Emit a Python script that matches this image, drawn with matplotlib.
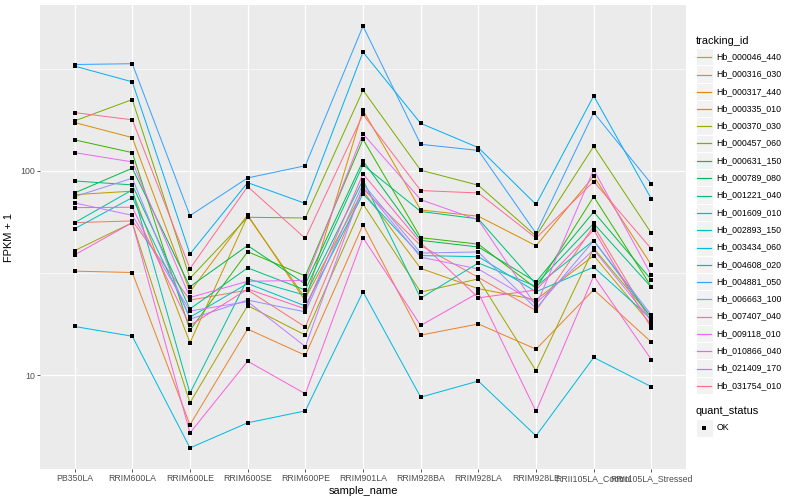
import numpy as np
import matplotlib
matplotlib.use("Agg")
import matplotlib.pyplot as plt
from matplotlib.patches import Rectangle
from matplotlib.lines import Line2D
from matplotlib.ticker import FixedLocator, NullFormatter

plt.rcParams["font.family"] = ["Liberation Sans", "DejaVu Sans"]

samples = ["PB350LA", "RRIM600LA", "RRIM600LE", "RRIM600SE", "RRIM600PE", "RRIM901LA",
           "RRIM928BA", "RRIM928LA", "RRIM928LE", "RRII105LA_Control", "RRII105LA_Stressed"]

tracking_ids = ["Hb_000046_440", "Hb_000316_030", "Hb_000317_440", "Hb_000335_010",
                "Hb_000370_030", "Hb_000457_060", "Hb_000631_150", "Hb_000789_080",
                "Hb_001221_040", "Hb_001609_010", "Hb_002893_150", "Hb_003434_060",
                "Hb_004608_020", "Hb_004881_050", "Hb_006663_100", "Hb_007407_040",
                "Hb_009118_010", "Hb_010866_040", "Hb_021409_170", "Hb_031754_010"]

# ggplot hue palette, 20 levels
colors = ["#F8766D", "#EA8331", "#D89000", "#C09B00", "#A3A500", "#7CAE00", "#39B600",
          "#00BB4E", "#00BF7D", "#00C1A3", "#00BFC4", "#00BAE0", "#00B0F6", "#35A2FF",
          "#9590FF", "#C77CFF", "#E76BF3", "#FA62DB", "#FF62BC", "#FF6C91"]

# FPKM + 1, one value per sample
hb_000046_440 = [55.8, 56.9, 23.3, 26.1, 17.2, 81.6, 43.1, 30.1, 20.7, 53.7, 18.2]
hb_000316_030 = [32.3, 31.8, 5.71, 16.8, 12.5, 54.5, 15.7, 17.8, 13.4, 26.2, 14.5]
hb_000317_440 = [172.5, 145.6, 25.6, 60.9, 23.1, 198, 64.4, 60.0, 43.0, 94.2, 34.6]
hb_000335_010 = [76.5, 79.6, 14.4, 60.2, 23.8, 79.8, 33.3, 26.5, 23.4, 38.5, 17.6]
hb_000370_030 = [40.7, 55.8, 7.32, 21.9, 15.7, 68.9, 25.5, 29.6, 10.5, 41.8, 19.2]
hb_000457_060 = [175.8, 223.6, 29.8, 59.3, 58.8, 248.6, 100.8, 85.1, 48.0, 132, 49.5]
hb_000631_150 = [141.9, 122.9, 16.6, 40.2, 30.6, 143, 47.1, 43.8, 26.6, 74.8, 27.1]
hb_000789_080 = [78.0, 103.1, 27.1, 43.1, 27.9, 111.9, 45.7, 42.4, 28.6, 63.0, 29.3]
hb_001221_040 = [89.3, 85.4, 21.1, 33.5, 26.1, 107.0, 63.3, 58.2, 27.9, 55.3, 26.9]
hb_001609_010 = [55.8, 80.7, 8.16, 29.6, 24.6, 90.3, 23.8, 35.4, 27.2, 45.6, 19.1]
hb_002893_150 = [52.1, 74.0, 19.2, 28.1, 21.8, 77.2, 38.5, 38.0, 25.6, 33.8, 18.8]
hb_003434_060 = [17.3, 15.5, 4.40, 5.84, 6.68, 25.6, 7.80, 9.35, 5.04, 12.2, 8.77]
hb_004608_020 = [326, 273, 39.2, 87.6, 69.3, 382, 171, 130, 68.5, 233, 72.9]
hb_004881_050 = [332, 335, 60.4, 92.4, 106, 512, 135, 126, 49.4, 193, 86.4]
hb_006663_100 = [74.8, 92.1, 18.8, 23.3, 20.4, 86.4, 39.6, 40.1, 21.2, 45.5, 19.7]
hb_007407_040 = [69.7, 60.6, 20.6, 22.9, 13.8, 83.8, 37.8, 33.1, 22.5, 41.1, 18.4]
hb_009118_010 = [122.9, 110.7, 24.0, 28.8, 29.1, 152, 72.3, 57.5, 21.8, 101.5, 30.8]
hb_010866_040 = [38.8, 55.8, 5.21, 11.7, 8.10, 47.1, 17.5, 25.3, 6.64, 30.6, 11.9]
hb_021409_170 = [66.1, 66.4, 17.5, 26.4, 21.1, 96.7, 44.5, 23.9, 26.1, 51.4, 17.0]
hb_031754_010 = [193, 178, 33.2, 83.8, 46.7, 189, 80.1, 78.0, 46.9, 88.7, 41.5]

fpkm = [hb_000046_440, hb_000316_030, hb_000317_440, hb_000335_010, hb_000370_030,
        hb_000457_060, hb_000631_150, hb_000789_080, hb_001221_040, hb_001609_010,
        hb_002893_150, hb_003434_060, hb_004608_020, hb_004881_050, hb_006663_100,
        hb_007407_040, hb_009118_010, hb_010866_040, hb_021409_170, hb_031754_010]

W, H = 800, 500
fig = plt.figure(figsize=(W / 72, H / 72), dpi=72)
ax = fig.add_axes([40 / W, 31 / H, 646 / W, 464 / H])
ax.set_facecolor("#EBEBEB")
for s in ax.spines.values():
    s.set_visible(False)

x = np.arange(len(samples))
for vals, c in zip(fpkm, colors):
    ax.plot(x, vals, color=c, lw=1.0, zorder=3)
for vals in fpkm:
    ax.plot(x, vals, ls="none", marker="s", ms=3.6, mew=0, color="black", zorder=4)

ax.set_yscale("log")
allv = np.log10(np.concatenate([np.array(v) for v in fpkm]))
lo, hi = allv.min(), allv.max()
pad = 0.05 * (hi - lo)
ax.set_ylim(10 ** (lo - pad), 10 ** (hi + pad))
ax.set_xlim(-0.6, len(samples) - 0.4)

ax.yaxis.set_major_locator(FixedLocator([10, 100]))
ax.set_yticklabels(["10", "100"])
ax.yaxis.set_minor_locator(FixedLocator([10 ** 0.5, 10 ** 1.5, 10 ** 2.5]))
ax.yaxis.set_minor_formatter(NullFormatter())
ax.set_xticks(x)
ax.set_xticklabels(samples)

ax.grid(True, which="major", color="white", lw=1.2, zorder=0)
ax.grid(True, which="minor", axis="y", color="white", lw=0.6, zorder=0)
ax.set_axisbelow(True)
ax.tick_params(which="major", length=2.75, width=0.8, color="#333333",
               labelsize=8.8, labelcolor="#4D4D4D", pad=2.2)
ax.tick_params(which="minor", length=0)

ax.set_xlabel("sample_name", fontsize=11, labelpad=3)
ax.set_ylabel("FPKM + 1", fontsize=11, labelpad=6)


def fx(p):
    return p / W


def fy(p):
    return 1 - p / H


# legend: tracking_id
fig.text(fx(696), fy(40.5), "tracking_id", fontsize=11, va="center", ha="left")
step = 17.3
for i, (tid, c) in enumerate(zip(tracking_ids, colors)):
    yc = 56.7 + i * step
    yl = np.floor(yc) + 0.5
    fig.add_artist(Rectangle((fx(695.5), fy(yc + step / 2)), step / W, step / H,
                             transform=fig.transFigure, facecolor="#F2F2F2",
                             edgecolor="white", lw=1, zorder=1))
    fig.add_artist(Line2D([fx(697.2), fx(711.1)], [fy(yl), fy(yl)],
                          transform=fig.transFigure, color=c, lw=1.2, zorder=2))
    fig.text(fx(716.5), fy(yc), tid, fontsize=8.8, va="center", ha="left")

# legend: quant_status
fig.text(fx(696), fy(411), "quant_status", fontsize=11, va="center", ha="left")
fig.add_artist(Rectangle((fx(695.5), fy(428 + step / 2)), step / W, step / H,
                         transform=fig.transFigure, facecolor="#F2F2F2",
                         edgecolor="white", lw=1))
fig.add_artist(Line2D([fx(704.1)], [fy(428)], transform=fig.transFigure,
                      marker="s", ms=3.6, mew=0, color="black", ls="none"))
fig.text(fx(716.5), fy(428), "OK", fontsize=8.8, va="center", ha="left")

fig.savefig("out.png", dpi=72)
